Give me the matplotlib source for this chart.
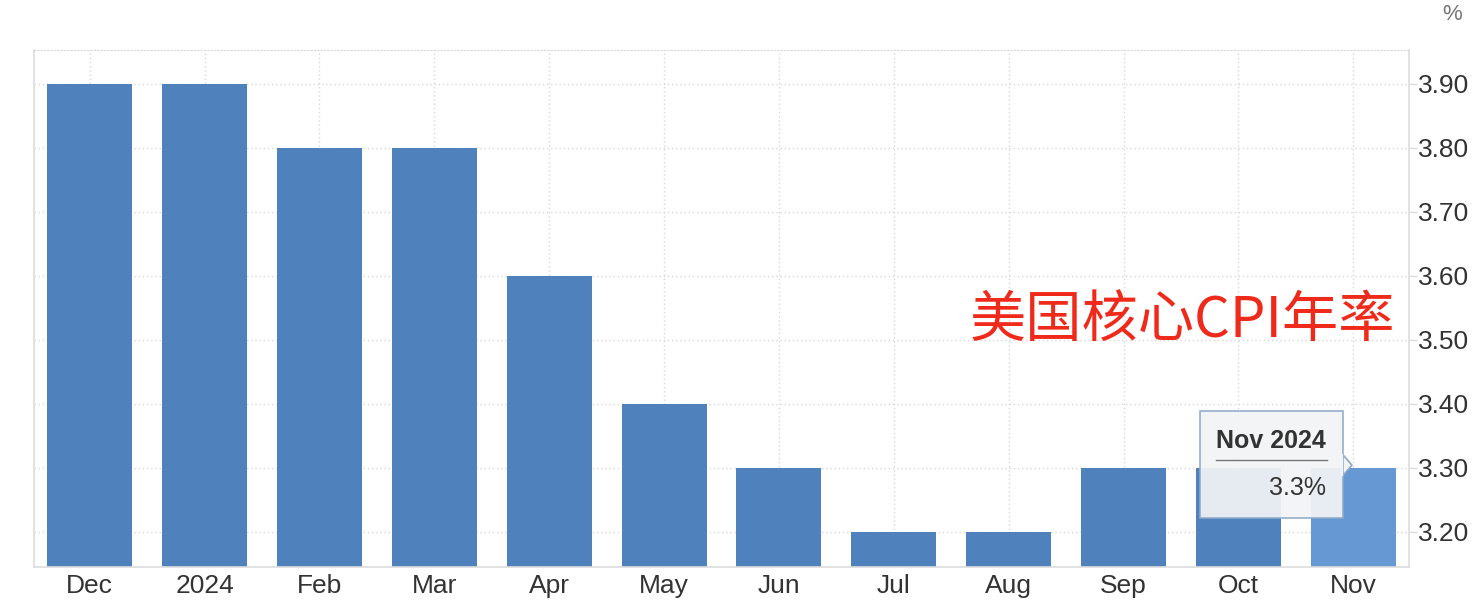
import matplotlib
matplotlib.use("Agg")
import matplotlib.pyplot as plt
from matplotlib.patches import Polygon, Rectangle

# Daten
monate = ["Dec", "2024", "Feb", "Mar", "Apr", "May", "Jun", "Jul", "Aug", "Sep", "Oct", "Nov"]
werte = [3.9, 3.9, 3.8, 3.8, 3.6, 3.4, 3.3, 3.2, 3.2, 3.3, 3.3, 3.3]
y_ticks = [3.2, 3.3, 3.4, 3.5, 3.6, 3.7, 3.8, 3.9]
titel = "美国核心CPI年率"
tooltip_titel = "Nov 2024"
tooltip_wert = "3.3%"

plt.rcParams['font.family'] = ['Liberation Sans', 'DejaVu Sans']

fig = plt.figure(figsize=(14.83, 6.15), dpi=100)
ax = fig.add_axes([34 / 1483, 1 - 567 / 615, 1375 / 1483, 517 / 615])

farben = ["#4f81bd"] * (len(werte) - 1) + ["#6699d3"]
x = list(range(len(monate)))
ax.bar(x, werte, width=0.74, color=farben, zorder=2)

ax.set_xlim(-0.485, len(monate) - 0.515)
ax.set_ylim(3.145, 3.953)

# Achsen
ax.set_xticks(x)
ax.set_xticklabels(monate, fontsize=19, color="#333333")
ax.tick_params(axis="x", length=0, pad=5)
ax.yaxis.tick_right()
ax.set_yticks(y_ticks)
ax.set_yticklabels([f"{v:.2f}" for v in y_ticks], fontsize=19, color="#333333")
ax.tick_params(axis="y", length=6, width=1, color="#dddddd", pad=0.5)

ax.grid(True, linestyle=(0, (1, 2)), color="#d8d8d8", linewidth=1, zorder=0)
for s in ["left", "right", "bottom"]:
    ax.spines[s].set_color("#dddddd")
    ax.spines[s].set_linewidth(1.2)
ax.spines["top"].set_linestyle((0, (1, 2)))
ax.spines["top"].set_color("#d8d8d8")

# Ueberschrift im Diagramm
ax.text(0.8356, 0.474, titel, transform=ax.transAxes, fontsize=40.5,
        color="#f02a1a", ha="center", va="center",
        family=['Noto Sans CJK SC', 'DejaVu Sans'], zorder=5)

# Einheit
fig.text(1452 / 1483, 1 - 15 / 615, "%", fontsize=16, color="#777777",
         ha="center", va="center")

# Tooltip
box = Rectangle((0.848, 0.095), 0.104, 0.207, transform=ax.transAxes,
                facecolor="#f3f4f6", edgecolor="#8fa8c8", linewidth=1.2,
                alpha=0.93, zorder=6)
ax.add_patch(box)
spitze = Polygon([(0.952, 0.217), (0.9585, 0.197), (0.952, 0.177)],
                 closed=True, transform=ax.transAxes, facecolor="#f3f4f6",
                 edgecolor="#8fa8c8", linewidth=1.2, zorder=6)
ax.add_patch(spitze)
ax.plot([0.9515, 0.9515], [0.178, 0.216], transform=ax.transAxes,
        color="#f3f4f6", linewidth=1.6, zorder=7)
ax.text(0.8996, 0.2437, tooltip_titel, transform=ax.transAxes, fontsize=18,
        fontweight="bold", color="#333333", ha="center", va="center", zorder=7)
ax.plot([0.8596, 0.9403], [0.207, 0.207], transform=ax.transAxes,
        color="#777777", linewidth=1, zorder=7)
ax.text(0.9395, 0.153, tooltip_wert, transform=ax.transAxes, fontsize=18,
        color="#333333", ha="right", va="center", zorder=7)

fig.savefig("out.png", dpi=100)
